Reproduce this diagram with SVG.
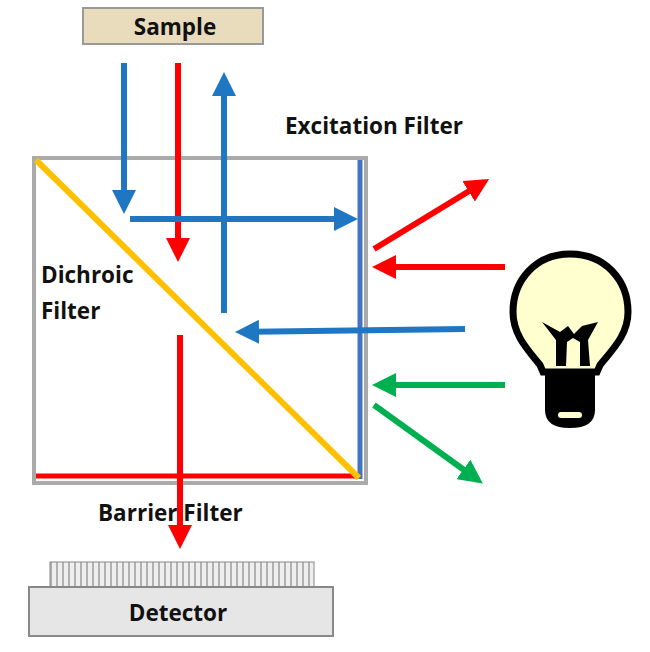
<svg xmlns="http://www.w3.org/2000/svg" width="650" height="652" viewBox="0 0 650 652">
<style>
text{font-family:"Open Sans","Liberation Sans",sans-serif;font-weight:bold;font-size:22.5px;fill:#111}
.b{stroke:#1f77c4;stroke-width:6;fill:none}
.r{stroke:#f00;stroke-width:6;fill:none}
.g{stroke:#00b050;stroke-width:6;fill:none}
</style>
<defs>
<marker id="mb" markerWidth="4" markerHeight="4" refX="3" refY="2" orient="auto" markerUnits="strokeWidth"><path d="M0,0L4,2L0,4z" fill="#1f77c4"/></marker>
<marker id="mr" markerWidth="4" markerHeight="4" refX="3" refY="2" orient="auto" markerUnits="strokeWidth"><path d="M0,0L4,2L0,4z" fill="#f00"/></marker>
<marker id="mg" markerWidth="4" markerHeight="4" refX="3" refY="2" orient="auto" markerUnits="strokeWidth"><path d="M0,0L4,2L0,4z" fill="#00b050"/></marker>
<pattern id="fin" width="6" height="24" patternUnits="userSpaceOnUse"><rect width="6" height="24" fill="#eee"/><line x1="3" y1="0" x2="3" y2="24" stroke="#888" stroke-width="1.2"/></pattern>
</defs>
<g id="sample"><rect x="83" y="8" width="180" height="36" fill="#e8dcbc" stroke="#999" stroke-width="2"/><text x="175" y="35" text-anchor="middle">Sample</text></g>
<g id="cube">
<rect x="34" y="158" width="332" height="325" fill="#fff" stroke="#aaa" stroke-width="4"/>
<line x1="36" y1="476" x2="358" y2="476" stroke="#f00" stroke-width="5"/>
<line x1="360" y1="160" x2="360" y2="479" stroke="#4472c4" stroke-width="5"/>
<line x1="36" y1="160" x2="359" y2="478" stroke="#ffc000" stroke-width="6"/>
</g>
<g id="labels">
<text x="285" y="134">Excitation Filter</text>
<text x="41" y="283">Dichroic</text>
<text x="41" y="319">Filter</text>
<text x="98" y="521">Barrier Filter</text>
</g>
<g id="detector"><rect x="50" y="562" width="264" height="25" fill="url(#fin)" stroke="#888"/><rect x="29" y="587" width="304" height="49" fill="#e6e6e6" stroke="#888" stroke-width="2"/><text x="178" y="621" text-anchor="middle">Detector</text></g>
<g id="bulb">
<path d="M570,254 C605,254 628,280 628,312 C628,335 612,350 600,365 L597,372 L543,372 L540,365 C528,350 513,335 513,312 C513,280 536,254 570,254Z" fill="#ffffd0" stroke="#000" stroke-width="7"/>
<path d="M545,372 L595,372 L595,410 Q595,428 570,428 Q545,428 545,410Z" fill="#000"/>
<rect x="558" y="412" width="24" height="6" rx="3" fill="#ffffd0"/>
<path d="M542,322 L560,332 L568,326 L574,334 L582,326 L598,322 L588,340 L590,366 L580,366 L580,342 L573,338 L567,342 L566,366 L556,366 L556,340Z" fill="#000"/>
</g>
<g id="connectors">
<line class="b" x1="124" y1="63" x2="124" y2="208" marker-end="url(#mb)"/>
<line class="r" x1="178" y1="63" x2="178" y2="256" marker-end="url(#mr)"/>
<line class="b" x1="224" y1="313" x2="224" y2="78" marker-end="url(#mb)"/>
<line class="b" x1="130" y1="219" x2="352" y2="219" marker-end="url(#mb)"/>
<line class="r" x1="374" y1="249" x2="484" y2="182" marker-end="url(#mr)"/>
<line class="r" x1="505" y1="267" x2="378" y2="267" marker-end="url(#mr)"/>
<line class="b" x1="465" y1="329" x2="241" y2="332" marker-end="url(#mb)"/>
<line class="g" x1="505" y1="385" x2="378" y2="385" marker-end="url(#mg)"/>
<line class="g" x1="374" y1="405" x2="478" y2="480" marker-end="url(#mg)"/>
<line class="r" x1="180" y1="335" x2="180" y2="543" marker-end="url(#mr)"/>
</g>
</svg>
